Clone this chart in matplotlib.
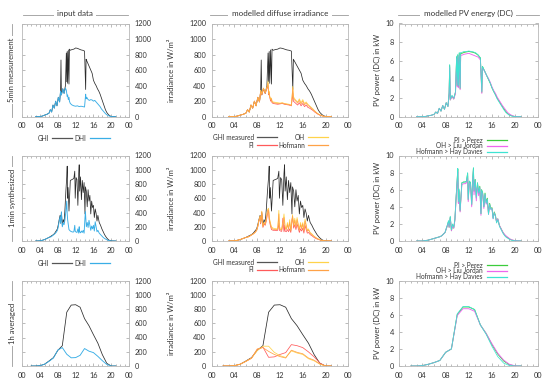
import numpy as np
import matplotlib.pyplot as plt
from matplotlib.lines import Line2D

plt.rcParams['font.family'] = ['Lato', 'DejaVu Sans']

# ---- data -------------------------------------------------------------
# row 1: 5min measurement (hours of day)
t1 = [3.0, 4.0, 4.5, 5.0, 5.5, 6.0, 6.3, 6.6, 6.9, 7.2,
      7.5, 7.8, 8.1, 8.4, 8.6, 8.7, 8.8, 9.1, 9.4, 9.7,
      9.9, 10.0, 10.1, 10.2, 10.35, 10.5, 10.6, 10.8, 11.2, 11.6,
      12.0, 12.4, 12.8, 13.2, 13.6, 14.0, 14.25, 14.35, 14.5, 14.8,
      15.1, 15.4, 15.7, 16.0, 16.3, 16.6, 16.9, 17.2, 17.5, 17.8,
      18.1, 18.4, 18.7, 19.0, 19.4, 19.8, 20.2, 21.0]
ghi1 = [0, 2, 8, 20, 30, 45, 90, 60, 150, 110,
        200, 140, 250, 190, 330, 730, 280, 360, 300, 400,
        820, 450, 840, 430, 860, 420, 870, 855, 865, 870,
        885, 880, 870, 860, 855, 845, 350, 740, 720, 680,
        640, 600, 560, 470, 430, 400, 360, 330, 290, 240,
        190, 140, 90, 55, 25, 8, 2, 0]
dhi1 = [0, 2, 8, 20, 30, 45, 90, 60, 150, 110,
        200, 140, 250, 190, 330, 300, 280, 360, 300, 370,
        340, 300, 260, 280, 220, 250, 200, 170, 150, 140,
        135, 140, 130, 135, 130, 125, 290, 230, 250, 220,
        210, 220, 215, 200, 210, 190, 170, 150, 130, 100,
        80, 60, 40, 25, 12, 4, 1, 0]
pi1 = [0, 2, 8, 20, 30, 45, 90, 60, 150, 110,
       200, 140, 250, 190, 330, 300, 280, 360, 300, 360,
       400, 280, 300, 250, 200, 220, 180, 170, 165, 160,
       165, 170, 160, 155, 150, 140, 300, 200, 190, 170,
       150, 180, 140, 170, 130, 150, 120, 110, 95, 80,
       60, 45, 30, 20, 10, 3, 1, 0]
oh1 = [0, 2, 8, 20, 30, 45, 90, 60, 150, 110,
       200, 140, 250, 190, 340, 320, 290, 370, 310, 380,
       460, 300, 330, 260, 230, 240, 200, 190, 185, 180,
       175, 180, 170, 165, 160, 150, 390, 260, 240, 210,
       190, 230, 180, 220, 170, 190, 160, 140, 120, 100,
       75, 55, 38, 25, 12, 4, 1, 0]
hof1 = [0, 2, 8, 20, 30, 45, 90, 60, 150, 110,
        200, 140, 250, 190, 335, 310, 285, 365, 305, 370,
        430, 290, 320, 255, 215, 230, 190, 180, 175, 170,
        170, 175, 165, 160, 155, 145, 370, 240, 220, 200,
        175, 210, 165, 200, 155, 175, 145, 130, 110, 90,
        70, 50, 35, 22, 11, 4, 1, 0]
perez1 = [0, 0, 0.02, 0.1, 0.15, 0.25, 0.5, 0.35, 0.9, 0.6,
          1.2, 0.8, 1.5, 1.1, 2.5, 5.5, 1.8, 2.2, 1.9, 2.6,
          6.4, 3.3, 6.6, 3.2, 6.8, 3.0, 6.8, 6.8, 6.9, 6.95,
          7.0, 6.95, 6.9, 6.8, 6.6, 6.3, 2.6, 5.4, 5.2, 4.8,
          4.4, 4.0, 3.6, 3.1, 2.7, 2.4, 2.0, 1.7, 1.4, 1.1,
          0.8, 0.55, 0.35, 0.2, 0.1, 0.03, 0, 0]
liu1 = [0, 0, 0.02, 0.1, 0.15, 0.25, 0.5, 0.35, 0.9, 0.6,
        1.2, 0.8, 1.5, 1.1, 2.4, 5.3, 1.8, 2.2, 1.9, 2.5,
        6.2, 3.2, 6.4, 3.1, 6.6, 2.9, 6.6, 6.6, 6.7, 6.75,
        6.8, 6.7, 6.6, 6.5, 6.4, 6.1, 2.5, 5.3, 5.1, 4.8,
        4.4, 4.1, 3.7, 3.2, 2.8, 2.5, 2.1, 1.8, 1.5, 1.2,
        0.95, 0.7, 0.45, 0.3, 0.15, 0.05, 0.01, 0]
hay1 = [0, 0, 0.02, 0.1, 0.15, 0.25, 0.5, 0.35, 0.9, 0.6,
        1.2, 0.8, 1.5, 1.1, 2.6, 5.6, 1.9, 2.3, 2.0, 2.7,
        6.5, 3.4, 6.7, 3.3, 6.9, 3.1, 6.9, 6.9, 7.0, 7.0,
        7.05, 7.0, 6.95, 6.85, 6.65, 6.3, 2.7, 5.4, 5.2, 4.8,
        4.4, 4.0, 3.6, 3.1, 2.7, 2.3, 1.9, 1.6, 1.3, 1.0,
        0.7, 0.45, 0.3, 0.15, 0.07, 0.02, 0, 0]

# row 2: 1min synthesized
t2 = [3.0, 4.0, 4.5, 5.0, 5.5, 6.0, 6.5, 7.0, 7.3, 7.6,
      7.9, 8.1, 8.3, 8.5, 8.6, 8.8, 9.0, 9.2, 9.4, 9.6,
      9.8, 10.0, 10.1, 10.2, 10.3, 10.5, 10.8, 11.1, 11.4, 11.6,
      11.8, 11.9, 12.1, 12.3, 12.5, 12.7, 12.8, 12.9, 13.1, 13.3,
      13.5, 13.7, 13.9, 14.1, 14.2, 14.4, 14.6, 14.8, 15.0, 15.2,
      15.4, 15.6, 15.8, 16.0, 16.2, 16.4, 16.6, 16.8, 17.0, 17.3,
      17.6, 17.9, 18.2, 18.5, 18.8, 19.1, 19.5, 20.0, 21.0]
ghi2 = [0, 3, 10, 20, 35, 50, 70, 90, 110, 140,
        170, 230, 300, 360, 250, 400, 220, 300, 260, 450,
        700, 900, 1050, 600, 750, 420, 850, 860, 870, 880,
        980, 600, 890, 860, 500, 950, 1070, 700, 900, 580,
        850, 680, 820, 380, 760, 700, 480, 720, 560, 640,
        380, 560, 470, 500, 330, 450, 390, 280, 360, 260,
        220, 170, 130, 90, 60, 35, 12, 2, 0]
dhi2 = [0, 3, 10, 20, 35, 50, 60, 85, 100, 120,
        150, 200, 280, 340, 250, 410, 200, 250, 230, 300,
        420, 560, 380, 300, 250, 160, 140, 130, 125, 130,
        220, 140, 125, 120, 170, 110, 200, 130, 115, 140,
        120, 150, 110, 330, 410, 200, 260, 190, 290, 220,
        150, 210, 170, 220, 140, 270, 200, 130, 150, 110,
        90, 70, 50, 35, 25, 15, 6, 1, 0]
pi2 = [0, 3, 10, 20, 35, 50, 60, 85, 100, 120,
       150, 200, 280, 330, 240, 380, 190, 240, 220, 280,
       380, 420, 300, 260, 220, 160, 150, 150, 145, 150,
       250, 150, 140, 135, 320, 130, 220, 140, 130, 160,
       130, 170, 120, 300, 330, 180, 230, 160, 240, 180,
       120, 170, 140, 180, 110, 220, 160, 110, 120, 90,
       75, 55, 40, 28, 20, 12, 5, 1, 0]
oh2 = [0, 3, 10, 20, 35, 50, 60, 85, 100, 120,
       150, 210, 290, 350, 260, 420, 210, 260, 240, 320,
       440, 460, 330, 300, 260, 200, 180, 175, 170, 175,
       430, 190, 180, 170, 250, 380, 300, 200, 170, 260,
       180, 300, 160, 290, 370, 230, 320, 210, 330, 240,
       170, 260, 190, 260, 160, 310, 230, 150, 170, 120,
       100, 75, 55, 38, 26, 15, 6, 1, 0]
hof2 = [0, 3, 10, 20, 35, 50, 60, 85, 100, 120,
        150, 205, 285, 345, 255, 410, 205, 255, 235, 310,
        420, 440, 320, 280, 240, 180, 165, 160, 160, 165,
        380, 170, 160, 155, 230, 330, 270, 180, 160, 230,
        160, 260, 140, 280, 350, 210, 290, 190, 300, 220,
        150, 230, 170, 240, 140, 280, 210, 135, 155, 110,
        90, 68, 50, 35, 24, 14, 6, 1, 0]
perez2 = [0, 0, 0.05, 0.1, 0.2, 0.3, 0.4, 0.5, 0.6, 0.8,
          1.0, 1.4, 1.8, 2.3, 1.6, 2.8, 1.2, 1.9, 1.5, 2.5,
          5.0, 7.2, 8.4, 4.5, 6.0, 3.5, 6.8, 6.9, 6.9, 7.0,
          7.9, 4.8, 7.0, 6.8, 4.2, 7.5, 8.5, 5.8, 7.2, 5.0,
          6.8, 5.6, 6.4, 3.2, 6.0, 5.6, 4.0, 5.6, 4.5, 5.0,
          3.2, 4.4, 3.8, 3.9, 2.7, 3.4, 3.0, 2.2, 2.6, 1.8,
          1.4, 1.0, 0.7, 0.5, 0.35, 0.2, 0.1, 0.03, 0]
liu2 = [0, 0, 0.05, 0.1, 0.2, 0.3, 0.4, 0.5, 0.6, 0.8,
        1.0, 1.4, 1.8, 2.2, 1.6, 2.7, 1.2, 1.8, 1.5, 2.4,
        4.8, 7.0, 8.1, 4.4, 5.8, 3.4, 6.6, 6.7, 6.7, 6.8,
        7.6, 4.6, 6.8, 6.6, 4.0, 7.2, 8.2, 5.4, 7.0, 4.7,
        6.6, 5.3, 6.2, 3.0, 5.8, 5.4, 3.8, 5.4, 4.3, 4.8,
        3.1, 4.2, 3.7, 3.8, 2.6, 3.3, 2.9, 2.2, 2.6, 1.8,
        1.4, 1.0, 0.75, 0.55, 0.4, 0.25, 0.12, 0.04, 0]
hay2 = [0, 0, 0.05, 0.1, 0.2, 0.3, 0.4, 0.5, 0.6, 0.8,
        1.0, 1.5, 1.9, 2.4, 1.7, 2.9, 1.3, 2.0, 1.6, 2.6,
        5.1, 7.3, 8.5, 4.6, 6.1, 3.6, 6.8, 6.9, 6.9, 7.0,
        8.0, 4.9, 7.0, 6.8, 4.3, 7.6, 8.6, 5.9, 7.2, 5.1,
        6.8, 5.6, 6.3, 3.2, 6.0, 5.6, 4.0, 5.5, 4.4, 4.9,
        3.1, 4.3, 3.7, 3.8, 2.6, 3.3, 2.9, 2.1, 2.5, 1.7,
        1.3, 0.9, 0.6, 0.4, 0.3, 0.15, 0.07, 0.02, 0]

# row 3: 1h averaged
t3 = [2, 3, 4, 5, 6, 7, 8, 9, 10, 11, 12, 13, 14, 15, 16, 17, 18, 19, 20, 21]
ghi3 = [0, 0, 5, 25, 70, 118, 220, 285, 755, 855, 860, 825, 665, 565, 440, 320, 160, 38, 0, 0]
dhi3 = [0, 0, 5, 25, 65, 112, 225, 258, 165, 115, 118, 150, 245, 208, 188, 135, 75, 22, 0, 0]
pi3 = [0, 0, 5, 25, 65, 110, 230, 265, 122, 128, 162, 188, 300, 285, 258, 198, 128, 42, 0, 0]
oh3 = [0, 0, 5, 25, 65, 110, 215, 278, 278, 192, 145, 120, 212, 182, 162, 102, 72, 26, 0, 0]
hof3 = [0, 0, 5, 25, 65, 110, 240, 258, 205, 162, 132, 112, 222, 192, 172, 112, 82, 28, 0, 0]
perez3 = [0, 0, 0.05, 0.2, 0.4, 0.65, 1.6, 2.0, 6.0, 6.9, 6.9, 6.6, 4.8, 3.8, 2.5, 1.4, 0.6, 0.15, 0, 0]
liu3 = [0, 0, 0.05, 0.2, 0.4, 0.65, 1.6, 2.0, 5.9, 6.7, 6.7, 6.4, 4.8, 3.8, 2.6, 1.5, 0.7, 0.2, 0.02, 0]
hay3 = [0, 0, 0.05, 0.2, 0.4, 0.65, 1.6, 2.0, 6.1, 6.95, 6.95, 6.6, 4.8, 3.7, 2.3, 1.1, 0.35, 0.05, 0, 0]

row_names = ['5min measurement', '1min synthesized', '1h averaged']
col_titles = ['input data', 'modelled diffuse irradiance', 'modelled PV energy (DC)']
hour_labels = ['00', '04', '08', '12', '16', '20', '00']

c_ghi = '#2b2b2b'
c_dhi = '#3aaee6'
c_pi = '#ff5a5a'
c_oh = '#ffd34a'
c_hof = '#ffa247'
c_perez = '#3ccc3c'
c_liu = '#ee66ee'
c_hay = '#3fe3d2'

# ---- layout (pixel based) ---------------------------------------------
W, H = 550, 383
fig = plt.figure(figsize=(5.5, 3.83), dpi=100)
fig.patch.set_facecolor('white')


def fx(px):
    return px / W


def fy(py):
    return 1 - py / H


cols = [(22.3, 129.0), (211.7, 348.3), (399.3, 538.3)]
rows = [(23.5, 116.7), (155.5, 241.0), (280.5, 366.0)]
FS = 5.3
txt = '#333333'


def style(ax, ymax, ystep, right=False):
    ax.set_xlim(0, 24)
    ax.set_ylim(0, ymax)
    ax.set_xticks(range(0, 25, 4))
    ax.set_xticklabels(hour_labels)
    ax.set_xticks(range(25), minor=True)
    ax.set_yticks(np.arange(0, ymax + 1e-9, ystep))
    for s in ax.spines.values():
        s.set_color('#b8b8b8')
        s.set_linewidth(0.6)
    ax.tick_params(which='both', direction='in', top=True, bottom=True,
                   left=True, right=True, color='#a0a0a0', width=0.5,
                   labelsize=FS, labelcolor=txt, pad=4)
    ax.tick_params(which='major', length=2.2)
    ax.tick_params(which='minor', length=1.3)
    if right:
        ax.tick_params(labelleft=False, labelright=True)


def fig_line(x0, y0, x1, y1, color, lw=0.6):
    fig.add_artist(Line2D([fx(x0), fx(x1)], [fy(y0), fy(y1)],
                          color=color, lw=lw, transform=fig.transFigure))


data_rows = [
    (t1, ghi1, dhi1, pi1, oh1, hof1, perez1, liu1, hay1),
    (t2, ghi2, dhi2, pi2, oh2, hof2, perez2, liu2, hay2),
    (t3, ghi3, dhi3, pi3, oh3, hof3, perez3, liu3, hay3),
]

lw = 0.55
leg_lw = 0.9
for r, (top, bot) in enumerate(rows):
    t, ghi, dhi, pi, oh, hof, pz, lj, hd = data_rows[r]
    axes = [fig.add_axes([fx(x0), fy(bot), (x1 - x0) / W, (bot - top) / H])
            for x0, x1 in cols]

    a = axes[0]
    a.plot(t, ghi, color=c_ghi, lw=lw)
    a.plot(t, dhi, color=c_dhi, lw=lw + 0.1)
    style(a, 1200, 200, right=True)

    b = axes[1]
    b.plot(t, ghi, color=c_ghi, lw=lw)
    b.plot(t, pi, color=c_pi, lw=lw)
    b.plot(t, oh, color=c_oh, lw=lw)
    b.plot(t, hof, color=c_hof, lw=lw)
    style(b, 1200, 200)

    c = axes[2]
    c.plot(t, pz, color=c_perez, lw=lw + 0.1)
    c.plot(t, lj, color=c_liu, lw=lw + 0.1)
    c.plot(t, hd, color=c_hay, lw=lw)
    style(c, 10, 2)
    c.set_ylabel('PV power (DC) in kW', fontsize=FS + 0.2, color=txt, labelpad=3)

    ymid = (top + bot) / 2
    # right axis label of the input column
    fig.text(fx(171.7), fy(ymid), 'irradiance in W/m²', rotation=90,
             ha='center', va='center', fontsize=FS + 0.2, color=txt)
    # row label with line
    fig_line(12, top, 12, bot, '#9a9a9a')
    fig.text(fx(12), fy(ymid), row_names[r], rotation=90, ha='center',
             va='center', fontsize=FS + 0.2, color=txt,
             bbox=dict(fc='white', ec='none', pad=1.5))

    # legends above rows 2 and 3
    if r > 0:
        ly = top - 17.2
        fig.text(fx(49.3), fy(ly), 'GHI', ha='right', va='center', fontsize=FS - 0.6, color=txt)
        fig_line(51.7, ly, 71.7, ly, '#555555', leg_lw)
        fig.text(fx(86.5), fy(ly), 'DHI', ha='right', va='center', fontsize=FS - 0.6, color=txt)
        fig_line(90, ly, 110, ly, c_dhi, leg_lw)

        l1, l2 = top - 18.2, top - 10.5
        for label, xe, yy, col in [('GHI measured', 254, l1, '#555555'),
                                   ('OH', 305, l1, c_oh),
                                   ('PI', 254, l2, c_pi),
                                   ('Hofmann', 305, l2, c_hof)]:
            fig.text(fx(xe), fy(yy), label, ha='right', va='center', fontsize=FS - 0.6, color=txt)
            fig_line(xe + 3, yy, xe + 23, yy, col, leg_lw)

        for label, yy, col in [('PI > Perez', top - 15.5, c_perez),
                               ('OH > Liu Jordan', top - 9.8, c_liu),
                               ('Hofmann > Hay Davies', top - 3.9, c_hay)]:
            fig.text(fx(483), fy(yy), label, ha='right', va='center', fontsize=FS - 0.6, color=txt)
            fig_line(486.7, yy, 506.7, yy, col, leg_lw)

# column titles with lines
title_spans = [(23, 128, 75), (210, 348, 280), (398, 539, 468)]
for (x0, x1, xc), title in zip(title_spans, col_titles):
    fig_line(x0, 14.7, x1, 14.7, '#9a9a9a')
    fig.text(fx(xc), fy(13.5), title, ha='center', va='center',
             fontsize=FS + 0.5, color=txt,
             bbox=dict(fc='white', ec='none', pad=2.5))

plt.savefig('out.png', dpi=100, facecolor='white')
plt.close()
